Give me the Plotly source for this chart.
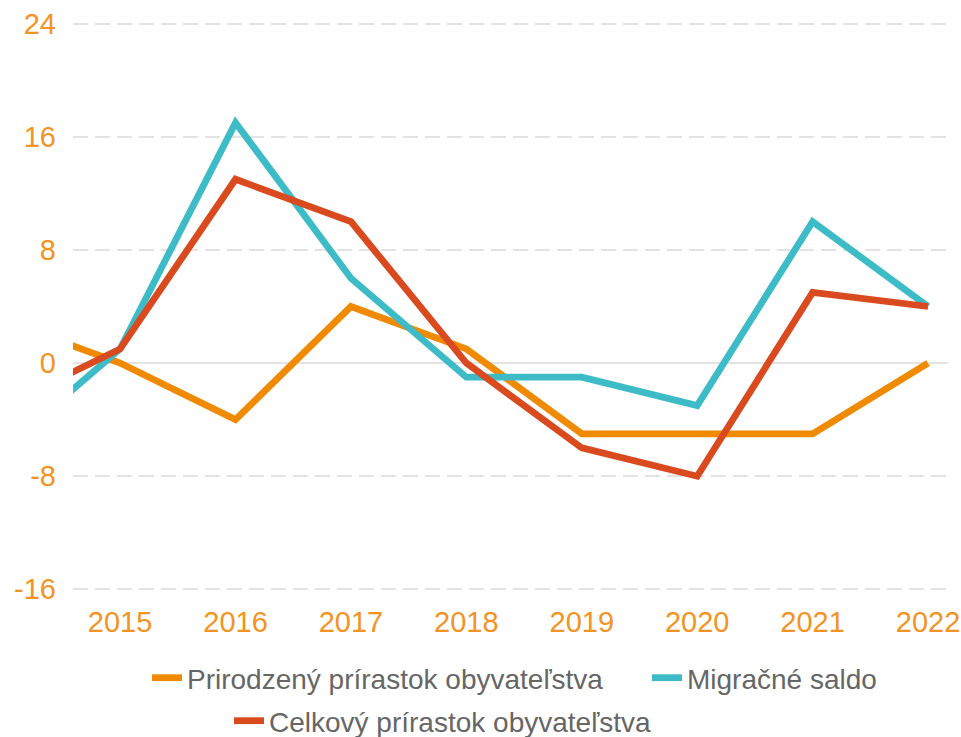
import plotly.graph_objects as go

years = [2014, 2015, 2016, 2017, 2018, 2019, 2020, 2021, 2022]
prirodzeny = [3, 0, -4, 4, 1, -5, -5, -5, 0]
migracne = [-6, 1, 17, 6, -1, -1, -3, 10, 4]
celkovy = [-3, 1, 13, 10, 0, -6, -8, 5, 4]
x_ticks = [2015, 2016, 2017, 2018, 2019, 2020, 2021, 2022]
y_ticks = [-16, -8, 0, 8, 16, 24]

names = ["Prirodzený prírastok obyvateľstva", "Migračné saldo", "Celkový prírastok obyvateľstva"]
colors = ["#F08A00", "#3DBCC8", "#DA4A1F"]
series = [prirodzeny, migracne, celkovy]
legends = ["legend", "legend2", "legend3"]

fig = go.Figure()
for name, col, vals, lg in zip(names, colors, series, legends):
    fig.add_trace(go.Scatter(
        x=years, y=vals, mode="lines", name=name,
        line=dict(color=col, width=6.8), legend=lg, showlegend=True,
        hoverinfo="skip"))

W, H = 961, 737
L, R, T, B = 73, 13, 18, 142
pw = W - L - R
ph = H - T - B

def px_x(p):
    return (p - L) / pw

def px_y(p):
    return (H - B - p) / ph

legend_font = dict(family="Arial, Liberation Sans, sans-serif", size=28, color="#666666")
common = dict(orientation="h", xanchor="left", yanchor="middle", font=legend_font,
              bgcolor="rgba(0,0,0,0)", borderwidth=0, itemclick=False, itemdoubleclick=False)

fig.update_layout(
    width=W, height=H,
    showlegend=True,
    margin=dict(l=L, r=R, t=T, b=B, pad=0, autoexpand=False),
    paper_bgcolor="white", plot_bgcolor="white",
    font=dict(family="Arial, Liberation Sans, sans-serif"),
    legend=dict(x=px_x(147), y=px_y(678), **common),
    legend2=dict(x=px_x(647), y=px_y(678), **common),
    legend3=dict(x=px_x(229), y=px_y(721), **common),
    xaxis=dict(
        range=[2014.592, 2022.173],
        tickvals=x_ticks, ticktext=[str(v) for v in x_ticks],
        showgrid=False, zeroline=False, showline=False, automargin=False,
        tickfont=dict(size=29, color="#F39323"),
        ticks="", ticklabelstandoff=7,
    ),
    yaxis=dict(
        range=[-16.4, 24.4],
        tickvals=y_ticks, ticktext=[str(v) for v in y_ticks],
        showgrid=True, gridcolor="#E3E3E3", gridwidth=2, griddash="15px,7px",
        zeroline=True, zerolinecolor="#E3E3E3", zerolinewidth=2,
        showline=False, automargin=False,
        tickfont=dict(size=29, color="#F39323"),
        ticks="", ticklabelstandoff=16,
    ),
)

fig.write_html("out.html")
